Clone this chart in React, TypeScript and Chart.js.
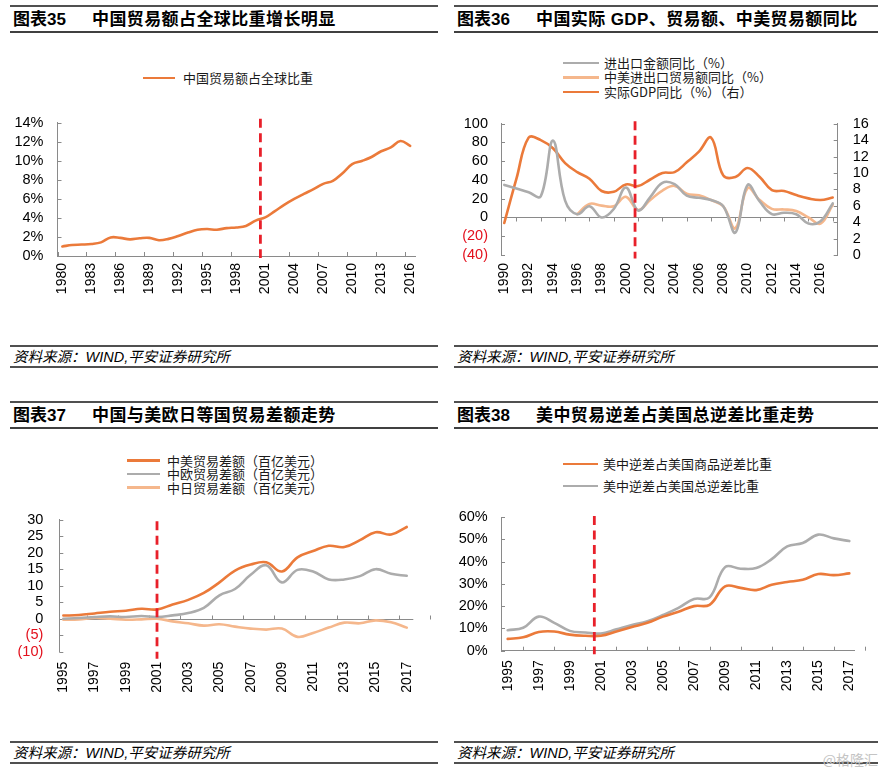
import React, { useEffect, useRef } from 'react';
import { Chart, registerables } from 'chart.js';
Chart.register(...registerables);

const FONT = '"Liberation Sans", Arial, "Noto Sans CJK SC", sans-serif';
const CJK = '"Liberation Sans", "Noto Sans CJK SC", sans-serif';

const ORANGE = '#EB7A3A';
const GRAY = '#ACACAC';
const PEACH = '#F5B78C';
const RED = '#E8202A';
const NEG_RED = '#E3101C';
const AXIS = '#8A8A8A';

// ---------- 图表35
const years35 = [1980, 1981, 1982, 1983, 1984, 1985, 1986, 1987, 1988, 1989, 1990, 1991, 1992, 1993, 1994, 1995, 1996, 1997, 1998, 1999, 2000, 2001, 2002, 2003, 2004, 2005, 2006, 2007, 2008, 2009, 2010, 2011, 2012, 2013, 2014, 2015, 2016];
const share35 = [1.0, 1.16, 1.2, 1.26, 1.43, 1.95, 1.9, 1.75, 1.86, 1.9, 1.66, 1.8, 2.1, 2.46, 2.76, 2.83, 2.76, 2.93, 3.0, 3.16, 3.72, 4.06, 4.72, 5.39, 5.99, 6.52, 7.02, 7.58, 7.9, 8.7, 9.64, 9.98, 10.4, 11.0, 11.4, 12.07, 11.57];
const xLabels35 = [1980, 1983, 1986, 1989, 1992, 1995, 1998, 2001, 2004, 2007, 2010, 2013, 2016];
const wto35 = 2000.5;

// ---------- 图表36
const years36 = [1990, 1991, 1992, 1993, 1994, 1995, 1996, 1997, 1998, 1999, 2000, 2001, 2002, 2003, 2004, 2005, 2006, 2007, 2008, 2009, 2010, 2011, 2012, 2013, 2014, 2015, 2016, 2017];
const trade36 = [34.7, 31, 27, 22.6, 82, 18, 3.5, 12, 0, 9, 32, 7.5, 21.8, 37, 35.5, 23.2, 21, 18.6, 12, -16, 34.7, 17, 3.6, 5, 3.4, -6.5, -4, 15];
const usYears36 = [1996, 1997, 1998, 1999, 2000, 2001, 2002, 2003, 2004, 2005, 2006, 2007, 2008, 2009, 2010, 2011, 2012, 2013, 2014, 2015, 2016, 2017];
const usTrade36 = [3.5, 14.5, 12.6, 12, 22, 8, 18.6, 28.7, 33.7, 25.3, 23.6, 18.6, 12, -11.5, 31.3, 18.6, 9.2, 8.6, 6.9, 0.2, -6.5, 13.6];
const gdp36 = [3.9, 9.3, 14.3, 14.0, 13.0, 11.2, 10.1, 9.3, 7.8, 7.7, 8.6, 8.4, 9.2, 10.0, 10.1, 11.3, 12.6, 14.3, 9.7, 9.5, 10.6, 9.5, 7.9, 7.8, 7.3, 6.9, 6.7, 7.0];
const xLabels36 = [1990, 1992, 1994, 1996, 1998, 2000, 2002, 2004, 2006, 2008, 2010, 2012, 2014, 2016];
const wto36 = 2000.75;

// ---------- 图表37
const years37 = [1995, 1996, 1997, 1998, 1999, 2000, 2001, 2002, 2003, 2004, 2005, 2006, 2007, 2008, 2009, 2010, 2011, 2012, 2013, 2014, 2015, 2016, 2017];
const us37 = [0.95, 1.1, 1.6, 2.1, 2.4, 3.0, 2.8, 4.3, 5.7, 7.8, 11.0, 14.6, 16.4, 17.1, 14.3, 18.6, 20.5, 22.1, 21.7, 23.8, 26.2, 25.5, 27.8];
const eu37 = [0, 0.2, 0.5, 0.7, 0.5, 0.8, 0.5, 1.0, 1.7, 3.3, 7.1, 9.0, 13.3, 16.2, 11.0, 14.8, 14.3, 11.9, 11.9, 12.9, 15.0, 13.6, 13.0];
const jp37 = [-0.3, -0.2, 0.2, 0, -0.3, -0.2, 0, -0.8, -1.4, -2.1, -1.7, -2.4, -3.0, -3.3, -3.0, -5.5, -4.3, -2.7, -1.2, -1.4, -0.5, -1.1, -2.7];
const xLabels37 = [1995, 1997, 1999, 2001, 2003, 2005, 2007, 2009, 2011, 2013, 2015, 2017];
const wto37 = 2001;

// ---------- 图表38
const years38 = [1995, 1996, 1997, 1998, 1999, 2000, 2001, 2002, 2003, 2004, 2005, 2006, 2007, 2008, 2009, 2010, 2011, 2012, 2013, 2014, 2015, 2016, 2017];
const goods38 = [5.3, 6.0, 8.4, 8.6, 7.2, 6.7, 6.7, 8.6, 10.6, 12.5, 15.3, 17.5, 20.0, 20.6, 28.9, 28.2, 27.2, 29.6, 30.8, 31.8, 34.4, 33.9, 34.7];
const total38 = [9.2, 10.3, 15.3, 12.5, 8.9, 8.2, 7.7, 9.6, 11.5, 13.2, 16.0, 19.2, 23.2, 23.9, 37.5, 36.8, 37.1, 41.1, 46.8, 48.3, 52.1, 50.4, 49.2];
const xLabels38 = [1995, 1997, 1999, 2001, 2003, 2005, 2007, 2009, 2011, 2013, 2015, 2017];
const wto38 = 2000.58;

// ---------- helpers
const pts = (xs: number[], ys: number[]) => xs.map((x, i) => ({ x, y: ys[i] }));

const lineDs = (label: string, xs: number[], ys: number[], color: string, yAxisID = 'y') => ({
  label,
  data: pts(xs, ys),
  borderColor: color,
  backgroundColor: color,
  borderWidth: 2.6,
  pointRadius: 0,
  pointHoverRadius: 0,
  tension: 0.4,
  fill: false,
  yAxisID,
  borderCapStyle: 'round' as const,
  borderJoinStyle: 'round' as const,
});

const yFont = { family: FONT, size: 14.5 };
const xFont = { family: FONT, size: 14 };
const negColor = (c: any) => (c.tick && c.tick.value < 0 ? NEG_RED : '#000');

function xAxis(min: number, max: number, labels: number[], height: number, pad: number, border: boolean) {
  return {
    type: 'linear' as const,
    position: 'bottom' as const,
    min,
    max,
    afterBuildTicks: (s: any) => {
      s.ticks = labels.map((v) => ({ value: v }));
    },
    afterFit: (s: any) => {
      s.height = height;
    },
    ticks: {
      autoSkip: false,
      minRotation: 90,
      maxRotation: 90,
      padding: pad,
      color: '#000',
      font: xFont,
      callback: (v: any) => String(v),
    },
    grid: { display: true, drawOnChartArea: false, drawTicks: false },
    border: { display: border, color: AXIS, width: 1 },
  };
}

function yAxis(position: 'left' | 'right', min: number, max: number, step: number, width: number, pad: number, cb: (v: number) => string) {
  return {
    type: 'linear' as const,
    position,
    min,
    max,
    afterFit: (s: any) => {
      s.width = width;
    },
    ticks: { autoSkip: false, stepSize: step, padding: pad, color: negColor, font: yFont, callback: (v: any) => cb(Number(v)) },
    grid: { display: true, drawOnChartArea: false, drawTicks: false },
    border: { display: true, color: AXIS, width: 1 },
  };
}

const paren = (v: number) => (v < 0 ? `(${-v})` : String(v));
const pct = (v: number) => `${v}%`;

type Deco = {
  vline: { value: number; up: number; down: number };
  zero?: { scale: string; value: number };
  xTicks: { values: number[]; scale?: string; at?: number; len: number };
  yTicks: { scale: string; side: 'left' | 'right'; len: number }[];
};

function makeDeco(d: Deco) {
  const seg = (ctx: CanvasRenderingContext2D, x1: number, y1: number, x2: number, y2: number) => {
    ctx.beginPath();
    ctx.moveTo(x1, y1);
    ctx.lineTo(x2, y2);
    ctx.stroke();
  };
  return {
    id: 'deco',
    beforeDatasetsDraw(chart: any) {
      const { ctx, chartArea, scales } = chart;
      ctx.save();
      ctx.strokeStyle = AXIS;
      ctx.lineWidth = 1;
      let baseY = chartArea.bottom;
      if (d.zero) {
        const y = Math.round(scales[d.zero.scale].getPixelForValue(d.zero.value)) + 0.5;
        seg(ctx, chartArea.left, y, chartArea.right, y);
      }
      if (d.xTicks.scale) baseY = Math.round(scales[d.xTicks.scale].getPixelForValue(d.xTicks.at)) + 0.5;
      for (const v of d.xTicks.values) {
        const x = Math.round(scales.x.getPixelForValue(v)) + 0.5;
        seg(ctx, x, baseY, x, baseY + d.xTicks.len);
      }
      for (const t of d.yTicks) {
        const s = scales[t.scale];
        const x0 = t.side === 'left' ? chartArea.left : chartArea.right;
        for (const tk of s.ticks) {
          const y = Math.round(s.getPixelForValue(tk.value)) + 0.5;
          seg(ctx, x0, y, x0 + t.len, y);
        }
      }
      ctx.restore();
    },
    afterDatasetsDraw(chart: any) {
      const { ctx, chartArea, scales } = chart;
      const x = scales.x.getPixelForValue(d.vline.value);
      ctx.save();
      ctx.strokeStyle = RED;
      ctx.lineWidth = 2.8;
      ctx.setLineDash([9, 5.5]);
      seg(ctx, x, chartArea.top - d.vline.up, x, chartArea.bottom + d.vline.down);
      ctx.restore();
    },
  };
}

function baseOptions(padRight: number, padTop: number, scales: any) {
  return {
    responsive: false,
    maintainAspectRatio: false,
    animation: false as const,
    devicePixelRatio: 1,
    events: [] as any[],
    layout: { padding: { left: 0, right: padRight, top: padTop, bottom: 0 } },
    plugins: { legend: { display: false }, tooltip: { enabled: false } },
    scales,
  };
}

// ---------- chart configs
const make35 = () => ({
  type: 'line' as const,
  data: { datasets: [lineDs('中国贸易额占全球比重', years35, share35, ORANGE)] },
  options: baseOptions(26, 15.7, {
    x: xAxis(1979.5, 2016.5, xLabels35, 44, 7, true),
    y: yAxis('left', 0, 14, 2, 57.5, 14, pct),
  }),
  plugins: [
    makeDeco({
      vline: { value: wto35, up: 4, down: 2 },
      xTicks: { values: xLabels35.map((v) => v - 0.5), len: -4 },
      yTicks: [{ scale: 'y', side: 'left', len: 4 }],
    }),
  ],
});

const make36 = () => ({
  type: 'line' as const,
  data: {
    datasets: [
      lineDs('进出口金额同比（%）', years36, trade36, GRAY),
      lineDs('中美进出口贸易额同比（%）', usYears36, usTrade36, PEACH),
      lineDs('实际GDP同比（%）（右）', years36, gdp36, ORANGE, 'y1'),
    ],
  },
  options: baseOptions(0, 15.7, {
    x: xAxis(1989.73, 2017.41, xLabels36, 45, 8, false),
    y: yAxis('left', -40, 100, 20, 60, 13, paren),
    y1: yAxis('right', 0, 16, 2, 44.3, 15, (v) => String(v)),
  }),
  plugins: [
    makeDeco({
      vline: { value: wto36, up: 2.5, down: 3.5 },
      zero: { scale: 'y', value: 0 },
      xTicks: { values: xLabels36.map((v) => v + 1), scale: 'y', at: 0, len: 4 },
      yTicks: [
        { scale: 'y', side: 'left', len: 4 },
        { scale: 'y1', side: 'right', len: -4 },
      ],
    }),
  ],
});

const make37 = () => ({
  type: 'line' as const,
  data: {
    datasets: [
      lineDs('中美贸易差额（百亿美元）', years37, us37, ORANGE),
      lineDs('中欧贸易差额（百亿美元）', years37, eu37, GRAY),
      lineDs('中日贸易差额（百亿美元）', years37, jp37, PEACH),
    ],
  },
  options: baseOptions(27.7, 16.7, {
    x: xAxis(1994.74, 2017.42, xLabels37, 48.3, 10, false),
    y: yAxis('left', -10, 30, 5, 59.3, 16, paren),
  }),
  plugins: [
    makeDeco({
      vline: { value: wto37, up: -1.5, down: 7 },
      zero: { scale: 'y', value: 0 },
      xTicks: { values: xLabels37.map((v) => v + 1.5), scale: 'y', at: 0, len: -4 },
      yTicks: [{ scale: 'y', side: 'left', len: 4 }],
    }),
  ],
});

const make38 = () => ({
  type: 'line' as const,
  data: {
    datasets: [
      lineDs('美中逆差占美国商品逆差比重', years38, goods38, ORANGE),
      lineDs('美中逆差占美国总逆差比重', years38, total38, GRAY),
    ],
  },
  options: baseOptions(27.7, 16, {
    x: xAxis(1994.57, 2017.32, xLabels38, 49.3, 9.5, true),
    y: yAxis('left', 0, 60, 10, 60, 13.3, pct),
  }),
  plugins: [
    makeDeco({
      vline: { value: wto38, up: 1, down: 3.5 },
      xTicks: { values: xLabels38.map((v) => v + 1), len: -4 },
      yTicks: [{ scale: 'y', side: 'left', len: 4 }],
    }),
  ],
});

// ---------- components
function ChartCanvas({ left, top, width, height, make }: { left: number; top: number; width: number; height: number; make: () => any }) {
  const ref = useRef<HTMLCanvasElement>(null);
  useEffect(() => {
    const chart = new Chart(ref.current as HTMLCanvasElement, make());
    return () => chart.destroy();
  }, []);
  return <canvas ref={ref} width={width} height={height} style={{ position: 'absolute', left, top, width, height }} />;
}

function Frame({ x, w, y, no, title }: { x: number; w: number; y: number; no: string; title: string }) {
  const line = (top: number, h: number, color: string) => (
    <div style={{ position: 'absolute', left: x, top, width: w, height: h, background: color }} />
  );
  return (
    <>
      {line(y + 5, 2, '#505050')}
      {line(y + 31, 1.5, '#404040')}
      <div style={{ position: 'absolute', left: x + 3, top: y + 9, lineHeight: '22px', fontSize: 17, fontWeight: 700, color: '#000', fontFamily: CJK, whiteSpace: 'nowrap' }}>
        {no}
      </div>
      <div style={{ position: 'absolute', left: x + 82, top: y + 9, lineHeight: '22px', fontSize: 17, fontWeight: 700, color: '#000', fontFamily: CJK, whiteSpace: 'nowrap', letterSpacing: 0.4 }}>
        {title}
      </div>
      {line(y + 345, 1.5, '#505050')}
      {line(y + 366, 1.5, '#505050')}
      <div style={{ position: 'absolute', left: x + 3, top: y + 347, lineHeight: '20px', fontSize: 14.5, fontStyle: 'italic', color: '#000', fontFamily: CJK, whiteSpace: 'nowrap' }}>
        资料来源：WIND,平安证券研究所
      </div>
    </>
  );
}

function Legend({ left, top, rowH, lineW, gap, items }: { left: number; top: number; rowH: number; lineW: number; gap: number; items: { label: string; color: string }[] }) {
  return (
    <div style={{ position: 'absolute', left, top }}>
      {items.map((it) => (
        <div key={it.label} style={{ display: 'flex', alignItems: 'center', height: rowH, whiteSpace: 'nowrap' }}>
          <div style={{ width: lineW, height: 2.6, background: it.color, marginRight: gap }} />
          <span style={{ fontFamily: '"Noto Sans CJK SC", sans-serif', fontSize: 13, lineHeight: `${rowH}px`, color: '#1a1a1a' }}>{it.label}</span>
        </div>
      ))}
    </div>
  );
}

export default function App() {
  return (
    <div style={{ position: 'fixed', left: 0, top: 0, width: 882, height: 772, background: '#fff', overflow: 'hidden' }}>
      <Frame x={10} w={428} y={0} no="图表35" title="中国贸易额占全球比重增长明显" />
      <Frame x={454} w={424} y={0} no="图表36" title="中国实际 GDP、贸易额、中美贸易额同比" />
      <Frame x={10} w={428} y={396} no="图表37" title="中国与美欧日等国贸易差额走势" />
      <Frame x={454} w={424} y={396} no="图表38" title="美中贸易逆差占美国总逆差比重走势" />

      <Legend left={143} top={70} rowH={16} lineW={32} gap={8} items={[{ label: '中国贸易额占全球比重', color: ORANGE }]} />
      <Legend
        left={563}
        top={56}
        rowH={14.4}
        lineW={36}
        gap={5}
        items={[
          { label: '进出口金额同比（%）', color: GRAY },
          { label: '中美进出口贸易额同比（%）', color: PEACH },
          { label: '实际GDP同比（%）（右）', color: ORANGE },
        ]}
      />
      <Legend
        left={127}
        top={454}
        rowH={13.3}
        lineW={33}
        gap={7}
        items={[
          { label: '中美贸易差额（百亿美元）', color: ORANGE },
          { label: '中欧贸易差额（百亿美元）', color: GRAY },
          { label: '中日贸易差额（百亿美元）', color: PEACH },
        ]}
      />
      <Legend
        left={563}
        top={453}
        rowH={22}
        lineW={35}
        gap={5}
        items={[
          { label: '美中逆差占美国商品逆差比重', color: ORANGE },
          { label: '美中逆差占美国总逆差比重', color: GRAY },
        ]}
      />

      <ChartCanvas left={0} top={100} width={441} height={200} make={make35} />
      <ChartCanvas left={441} top={100} width={441} height={200} make={make36} />
      <ChartCanvas left={0} top={495} width={441} height={205} make={make37} />
      <ChartCanvas left={441} top={495} width={441} height={205} make={make38} />

      <div style={{ position: 'absolute', right: 4, top: 749, fontSize: 14, color: '#c4c4c4', fontFamily: '"Noto Sans CJK SC", sans-serif' }}>@格隆汇</div>
    </div>
  );
}
